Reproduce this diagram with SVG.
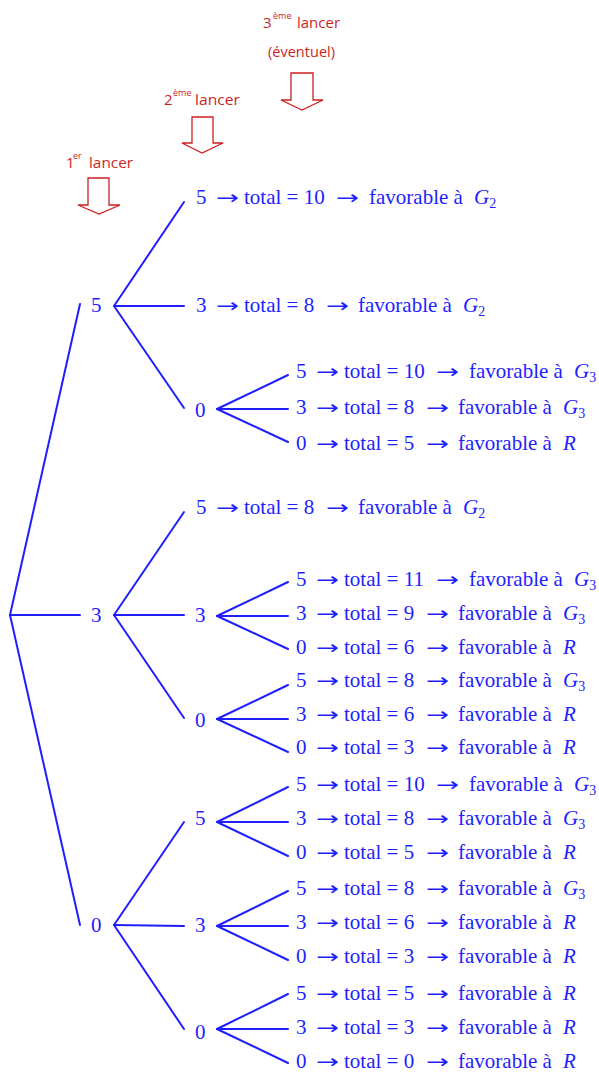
<svg xmlns="http://www.w3.org/2000/svg" width="599" height="1074" viewBox="0 0 599 1074">
  <style>
    .t { font-family: "Liberation Serif", "Times New Roman", serif; font-size: 21px; fill: #1e1eff; }
    .i { font-style: italic; }
    .sub { font-size: 14px; font-style: normal; }
    .ar { font-family: "DejaVu Sans", sans-serif; font-size: 19px; }
    .edge { stroke: #1e1eff; stroke-width: 2; fill: none; stroke-linecap: round; }
    .hd { font-family: "Open Sans", "DejaVu Sans", sans-serif; font-size: 15px; fill: #cc1f1f; }
    .sup { font-size: 9px; }
    .down { fill: #ffffff; stroke: #cc1f1f; stroke-width: 1.3; stroke-linejoin: miter; }
  </style>

  <!-- column headers with hollow down arrows -->
  <g id="header-1">
    <text class="hd" y="168"><tspan x="66">1</tspan><tspan class="sup" x="73" y="159">er</tspan><tspan x="89" y="168" textLength="44" lengthAdjust="spacingAndGlyphs">lancer</tspan></text>
    <path class="down" d="M88,178 H109 V205 H120 L99,214 L78,205 H88 Z"/>
  </g>
  <g id="header-2">
    <text class="hd" y="105"><tspan x="164">2</tspan><tspan class="sup" x="173" y="96">ème</tspan><tspan x="195" y="105" textLength="45" lengthAdjust="spacingAndGlyphs">lancer</tspan></text>
    <path class="down" d="M192,117 H213 V143 H223 L202,153 L182,143 H192 Z"/>
  </g>
  <g id="header-3">
    <text class="hd" y="28"><tspan x="263">3</tspan><tspan class="sup" x="273" y="19">ème</tspan><tspan x="297" y="28" textLength="43" lengthAdjust="spacingAndGlyphs">lancer</tspan></text>
    <text class="hd" x="268" y="57" textLength="67" lengthAdjust="spacingAndGlyphs">(éventuel)</text>
    <path class="down" d="M291,73 H313 V100 H323 L302,110 L281,100 H291 Z"/>
  </g>

  <!-- branches of the tree -->
  <g id="connectors">
    <!-- root to first throw -->
    <line class="edge" x1="10" y1="615" x2="80" y2="304"/>
    <line class="edge" x1="10" y1="615" x2="80" y2="615"/>
    <line class="edge" x1="10" y1="615" x2="80" y2="925"/>
    <!-- first throw 5 -->
    <line class="edge" x1="114" y1="306" x2="184" y2="202"/>
    <line class="edge" x1="114" y1="306" x2="184" y2="306"/>
    <line class="edge" x1="114" y1="306" x2="184" y2="408"/>
    <!-- first throw 3 -->
    <line class="edge" x1="114" y1="615" x2="184" y2="512"/>
    <line class="edge" x1="114" y1="615" x2="184" y2="615"/>
    <line class="edge" x1="114" y1="615" x2="184" y2="718"/>
    <!-- first throw 0 -->
    <line class="edge" x1="114" y1="925" x2="184" y2="822"/>
    <line class="edge" x1="114" y1="925" x2="184" y2="926"/>
    <line class="edge" x1="114" y1="925" x2="184" y2="1029"/>
    <!-- third throw fans -->
    <line class="edge" x1="217" y1="409" x2="288" y2="375"/>
    <line class="edge" x1="217" y1="409" x2="288" y2="409"/>
    <line class="edge" x1="217" y1="409" x2="288" y2="442"/>
    <line class="edge" x1="217" y1="616" x2="288" y2="582"/>
    <line class="edge" x1="217" y1="616" x2="288" y2="616"/>
    <line class="edge" x1="217" y1="616" x2="288" y2="649"/>
    <line class="edge" x1="217" y1="719" x2="288" y2="685"/>
    <line class="edge" x1="217" y1="719" x2="288" y2="719"/>
    <line class="edge" x1="217" y1="719" x2="288" y2="752"/>
    <line class="edge" x1="217" y1="822" x2="288" y2="787"/>
    <line class="edge" x1="217" y1="822" x2="288" y2="822"/>
    <line class="edge" x1="217" y1="822" x2="288" y2="856"/>
    <line class="edge" x1="217" y1="926" x2="288" y2="891"/>
    <line class="edge" x1="217" y1="926" x2="288" y2="926"/>
    <line class="edge" x1="217" y1="926" x2="288" y2="960"/>
    <line class="edge" x1="217" y1="1029" x2="288" y2="994"/>
    <line class="edge" x1="217" y1="1029" x2="288" y2="1029"/>
    <line class="edge" x1="217" y1="1029" x2="288" y2="1063"/>
  </g>

  <!-- first throw -->
  <g id="n1-5"><text class="t" x="91" y="312">5</text></g>
  <g id="n1-3"><text class="t" x="91" y="622">3</text></g>
  <g id="n1-0"><text class="t" x="91" y="932">0</text></g>

  <!-- second throw: outcomes ending the game -->
  <g id="n55"><text class="t" y="204"><tspan x="196">5</tspan><tspan class="ar" x="216" textLength="23" lengthAdjust="spacingAndGlyphs">→</tspan><tspan x="244">total = 10</tspan><tspan class="ar" x="336" textLength="23" lengthAdjust="spacingAndGlyphs">→</tspan><tspan x="369">favorable à</tspan><tspan x="474" class="i">G</tspan><tspan class="sub" dy="4">2</tspan></text></g>
  <g id="n53"><text class="t" y="312"><tspan x="196">3</tspan><tspan class="ar" x="216" textLength="23" lengthAdjust="spacingAndGlyphs">→</tspan><tspan x="244">total = 8</tspan><tspan class="ar" x="326" textLength="23" lengthAdjust="spacingAndGlyphs">→</tspan><tspan x="358">favorable à</tspan><tspan x="463" class="i">G</tspan><tspan class="sub" dy="4">2</tspan></text></g>
  <g id="n35"><text class="t" y="514"><tspan x="196">5</tspan><tspan class="ar" x="216" textLength="23" lengthAdjust="spacingAndGlyphs">→</tspan><tspan x="244">total = 8</tspan><tspan class="ar" x="326" textLength="23" lengthAdjust="spacingAndGlyphs">→</tspan><tspan x="358">favorable à</tspan><tspan x="463" class="i">G</tspan><tspan class="sub" dy="4">2</tspan></text></g>

  <!-- second throw: nodes leading to a third throw -->
  <g id="n50"><text class="t" x="195" y="417">0</text></g>
  <g id="n33"><text class="t" x="195" y="622">3</text></g>
  <g id="n30"><text class="t" x="195" y="727">0</text></g>
  <g id="n05"><text class="t" x="195" y="825">5</text></g>
  <g id="n03"><text class="t" x="195" y="932">3</text></g>
  <g id="n00"><text class="t" x="195" y="1039">0</text></g>

  <!-- third throw outcomes -->
  <g id="n505"><text class="t" y="378"><tspan x="296">5</tspan><tspan class="ar" x="316" textLength="23" lengthAdjust="spacingAndGlyphs">→</tspan><tspan x="344">total = 10</tspan><tspan class="ar" x="436" textLength="23" lengthAdjust="spacingAndGlyphs">→</tspan><tspan x="469">favorable à</tspan><tspan x="574" class="i">G</tspan><tspan class="sub" dy="4">3</tspan></text></g>
  <g id="n503"><text class="t" y="414"><tspan x="296">3</tspan><tspan class="ar" x="316" textLength="23" lengthAdjust="spacingAndGlyphs">→</tspan><tspan x="344">total = 8</tspan><tspan class="ar" x="426" textLength="23" lengthAdjust="spacingAndGlyphs">→</tspan><tspan x="458">favorable à</tspan><tspan x="563" class="i">G</tspan><tspan class="sub" dy="4">3</tspan></text></g>
  <g id="n500"><text class="t" y="450"><tspan x="296">0</tspan><tspan class="ar" x="316" textLength="23" lengthAdjust="spacingAndGlyphs">→</tspan><tspan x="344">total = 5</tspan><tspan class="ar" x="426" textLength="23" lengthAdjust="spacingAndGlyphs">→</tspan><tspan x="458">favorable à</tspan><tspan x="563" class="i">R</tspan></text></g>

  <g id="n335"><text class="t" y="586"><tspan x="296">5</tspan><tspan class="ar" x="316" textLength="23" lengthAdjust="spacingAndGlyphs">→</tspan><tspan x="344">total = 11</tspan><tspan class="ar" x="436" textLength="23" lengthAdjust="spacingAndGlyphs">→</tspan><tspan x="469">favorable à</tspan><tspan x="574" class="i">G</tspan><tspan class="sub" dy="4">3</tspan></text></g>
  <g id="n333"><text class="t" y="620"><tspan x="296">3</tspan><tspan class="ar" x="316" textLength="23" lengthAdjust="spacingAndGlyphs">→</tspan><tspan x="344">total = 9</tspan><tspan class="ar" x="426" textLength="23" lengthAdjust="spacingAndGlyphs">→</tspan><tspan x="458">favorable à</tspan><tspan x="563" class="i">G</tspan><tspan class="sub" dy="4">3</tspan></text></g>
  <g id="n330"><text class="t" y="654"><tspan x="296">0</tspan><tspan class="ar" x="316" textLength="23" lengthAdjust="spacingAndGlyphs">→</tspan><tspan x="344">total = 6</tspan><tspan class="ar" x="426" textLength="23" lengthAdjust="spacingAndGlyphs">→</tspan><tspan x="458">favorable à</tspan><tspan x="563" class="i">R</tspan></text></g>

  <g id="n305"><text class="t" y="687"><tspan x="296">5</tspan><tspan class="ar" x="316" textLength="23" lengthAdjust="spacingAndGlyphs">→</tspan><tspan x="344">total = 8</tspan><tspan class="ar" x="426" textLength="23" lengthAdjust="spacingAndGlyphs">→</tspan><tspan x="458">favorable à</tspan><tspan x="563" class="i">G</tspan><tspan class="sub" dy="4">3</tspan></text></g>
  <g id="n303"><text class="t" y="721"><tspan x="296">3</tspan><tspan class="ar" x="316" textLength="23" lengthAdjust="spacingAndGlyphs">→</tspan><tspan x="344">total = 6</tspan><tspan class="ar" x="426" textLength="23" lengthAdjust="spacingAndGlyphs">→</tspan><tspan x="458">favorable à</tspan><tspan x="563" class="i">R</tspan></text></g>
  <g id="n300"><text class="t" y="754"><tspan x="296">0</tspan><tspan class="ar" x="316" textLength="23" lengthAdjust="spacingAndGlyphs">→</tspan><tspan x="344">total = 3</tspan><tspan class="ar" x="426" textLength="23" lengthAdjust="spacingAndGlyphs">→</tspan><tspan x="458">favorable à</tspan><tspan x="563" class="i">R</tspan></text></g>

  <g id="n055"><text class="t" y="791"><tspan x="296">5</tspan><tspan class="ar" x="316" textLength="23" lengthAdjust="spacingAndGlyphs">→</tspan><tspan x="344">total = 10</tspan><tspan class="ar" x="436" textLength="23" lengthAdjust="spacingAndGlyphs">→</tspan><tspan x="469">favorable à</tspan><tspan x="574" class="i">G</tspan><tspan class="sub" dy="4">3</tspan></text></g>
  <g id="n053"><text class="t" y="825"><tspan x="296">3</tspan><tspan class="ar" x="316" textLength="23" lengthAdjust="spacingAndGlyphs">→</tspan><tspan x="344">total = 8</tspan><tspan class="ar" x="426" textLength="23" lengthAdjust="spacingAndGlyphs">→</tspan><tspan x="458">favorable à</tspan><tspan x="563" class="i">G</tspan><tspan class="sub" dy="4">3</tspan></text></g>
  <g id="n050"><text class="t" y="859"><tspan x="296">0</tspan><tspan class="ar" x="316" textLength="23" lengthAdjust="spacingAndGlyphs">→</tspan><tspan x="344">total = 5</tspan><tspan class="ar" x="426" textLength="23" lengthAdjust="spacingAndGlyphs">→</tspan><tspan x="458">favorable à</tspan><tspan x="563" class="i">R</tspan></text></g>

  <g id="n035"><text class="t" y="895"><tspan x="296">5</tspan><tspan class="ar" x="316" textLength="23" lengthAdjust="spacingAndGlyphs">→</tspan><tspan x="344">total = 8</tspan><tspan class="ar" x="426" textLength="23" lengthAdjust="spacingAndGlyphs">→</tspan><tspan x="458">favorable à</tspan><tspan x="563" class="i">G</tspan><tspan class="sub" dy="4">3</tspan></text></g>
  <g id="n033"><text class="t" y="929"><tspan x="296">3</tspan><tspan class="ar" x="316" textLength="23" lengthAdjust="spacingAndGlyphs">→</tspan><tspan x="344">total = 6</tspan><tspan class="ar" x="426" textLength="23" lengthAdjust="spacingAndGlyphs">→</tspan><tspan x="458">favorable à</tspan><tspan x="563" class="i">R</tspan></text></g>
  <g id="n030"><text class="t" y="963"><tspan x="296">0</tspan><tspan class="ar" x="316" textLength="23" lengthAdjust="spacingAndGlyphs">→</tspan><tspan x="344">total = 3</tspan><tspan class="ar" x="426" textLength="23" lengthAdjust="spacingAndGlyphs">→</tspan><tspan x="458">favorable à</tspan><tspan x="563" class="i">R</tspan></text></g>

  <g id="n005"><text class="t" y="1000"><tspan x="296">5</tspan><tspan class="ar" x="316" textLength="23" lengthAdjust="spacingAndGlyphs">→</tspan><tspan x="344">total = 5</tspan><tspan class="ar" x="426" textLength="23" lengthAdjust="spacingAndGlyphs">→</tspan><tspan x="458">favorable à</tspan><tspan x="563" class="i">R</tspan></text></g>
  <g id="n003"><text class="t" y="1034"><tspan x="296">3</tspan><tspan class="ar" x="316" textLength="23" lengthAdjust="spacingAndGlyphs">→</tspan><tspan x="344">total = 3</tspan><tspan class="ar" x="426" textLength="23" lengthAdjust="spacingAndGlyphs">→</tspan><tspan x="458">favorable à</tspan><tspan x="563" class="i">R</tspan></text></g>
  <g id="n000"><text class="t" y="1068"><tspan x="296">0</tspan><tspan class="ar" x="316" textLength="23" lengthAdjust="spacingAndGlyphs">→</tspan><tspan x="344">total = 0</tspan><tspan class="ar" x="426" textLength="23" lengthAdjust="spacingAndGlyphs">→</tspan><tspan x="458">favorable à</tspan><tspan x="563" class="i">R</tspan></text></g>
</svg>
